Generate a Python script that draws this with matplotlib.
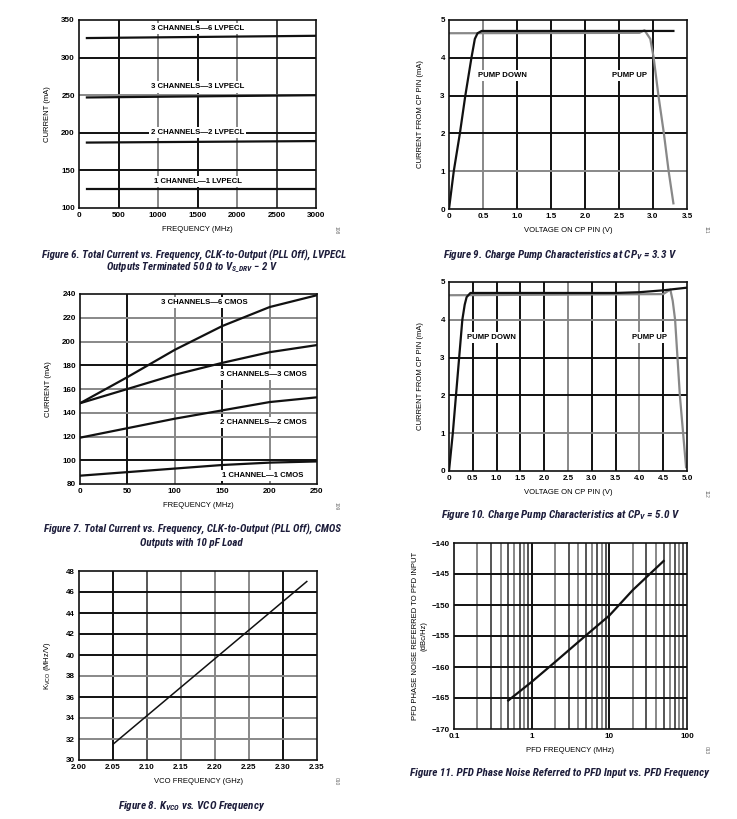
import matplotlib
matplotlib.use('Agg')
import matplotlib.pyplot as plt
import numpy as np

plt.rcParams['font.family'] = ['Liberation Sans', 'DejaVu Sans']
plt.rcParams['font.weight'] = 'bold'

# ---- data ----
# Figure 6: LVPECL current vs frequency
f6_freq = [100, 3000]
f6_6lv = [326, 329]
f6_3lv = [247, 250]
f6_2lv = [187, 189]
f6_1lv = [125, 125]

# Figure 7: CMOS current vs frequency
f7_freq = [0, 50, 100, 150, 200, 250]
f7_6cm = [148, 170, 193, 213, 229, 239]
f7_3cm = [148, 160, 172, 182, 191, 197]
f7_2cm = [119, 127, 135, 142, 149, 153]
f7_1cm = [87, 90, 93, 96, 98, 99]

# Figure 8: Kvco vs VCO frequency
f8_freq = [2.05, 2.335]
f8_kvco = [31.5, 47.0]

# Figure 9: charge pump at CPv = 3.3 V
f9_dn_v = [0, 0.07, 0.16, 0.24, 0.33, 0.38, 0.42, 0.48, 3.3]
f9_dn_i = [0, 1.0, 2.0, 3.0, 4.0, 4.5, 4.65, 4.71, 4.71]
f9_up_v = [0, 2.8, 2.875, 2.96, 3.01, 3.08, 3.16, 3.23, 3.3]
f9_up_i = [4.65, 4.66, 4.73, 4.5, 4.0, 3.0, 2.0, 1.0, 0.15]

# Figure 10: charge pump at CPv = 5.0 V
f10_dn_v = [0, 0.08, 0.18, 0.28, 0.33, 0.37, 0.45, 3.5, 4.0, 4.5, 5.0]
f10_dn_i = [0, 1.0, 2.5, 4.0, 4.4, 4.6, 4.71, 4.71, 4.73, 4.78, 4.85]
f10_up_v = [0, 4.5, 4.65, 4.7, 4.75, 4.85, 4.98]
f10_up_i = [4.65, 4.68, 4.8, 4.5, 4.0, 2.0, 0.1]

# Figure 11: PFD phase noise vs PFD frequency
f11_freq = [0.5, 1, 2, 5, 10, 20, 50]
f11_pn = [-165.4, -162.4, -159.2, -154.9, -151.7, -147.6, -142.9]

W, H = 737, 819
fig = plt.figure(figsize=(W / 100, H / 100), dpi=100)

BLK = '#111111'
GRY = '#888888'
CAP = '#1c1c3a'


def box(l, r, t, b):
    return [l / W, 1 - b / H, (r - l) / W, (b - t) / H]


def setup(ax, xlim, ylim, xt, yt, vlines, hlines, xfmt=None):
    ax.set_xlim(*xlim)
    ax.set_ylim(*ylim)
    for x, c in vlines:
        ax.axvline(x, color=c, lw=1.4, zorder=1)
    for y, c in hlines:
        ax.axhline(y, color=c, lw=1.4, zorder=1)
    ax.set_xticks(xt)
    ax.set_yticks(yt)
    if xfmt:
        ax.set_xticklabels([xfmt.format(v) for v in xt])
    ax.tick_params(length=0, labelsize=5.8, pad=3)
    for s in ax.spines.values():
        s.set_linewidth(1.2)
        s.set_color(BLK)


def lab(ax, x, y, s):
    ax.text(x, y, s, ha='center', va='center', fontsize=5.6, zorder=3,
            bbox=dict(facecolor='white', edgecolor='none', pad=1.5))


def caption(x, y, s, size=8):
    fig.text(x / W, 1 - y / H, s, ha='center', va='center', fontsize=size,
             style='italic', weight='bold', color=CAP,
             family=['Roboto Condensed', 'Liberation Sans'])


def code(x, y, s):
    fig.text(x / W, 1 - y / H, s, ha='center', va='center', fontsize=3.5,
             rotation=270, color='#666666', weight='normal')


# ---- Figure 6 ----
ax = fig.add_axes(box(79, 316, 20, 208))
setup(ax, (0, 3000), (100, 350), range(0, 3001, 500), range(100, 351, 50),
      [(500, BLK), (1000, GRY), (1500, BLK), (2000, GRY), (2500, '#444444')],
      [(150, BLK), (200, BLK), (250, GRY), (300, BLK)])
for ys in (f6_6lv, f6_3lv, f6_2lv, f6_1lv):
    ax.plot(f6_freq, ys, color=BLK, lw=1.6, zorder=2)
lab(ax, 1500, 339, '3 CHANNELS—6 LVPECL')
lab(ax, 1500, 261, '3 CHANNELS—3 LVPECL')
lab(ax, 1500, 200, '2 CHANNELS—2 LVPECL')
lab(ax, 1500, 135, '1 CHANNEL—1 LVPECL')
ax.set_xlabel('FREQUENCY (MHz)', fontsize=5.5, labelpad=5)
ax.set_ylabel('CURRENT (mA)', fontsize=5.5, labelpad=7)
code(336, 230, '108')
caption(194, 255, 'Figure 6. Total Current vs. Frequency, CLK-to-Output (PLL Off), LVPECL', 7.8)
caption(192, 268, r'Outputs Terminated 50 Ω to V$\mathregular{_{S\_DRV}}$ − 2 V', 7.8)

# ---- Figure 9 ----
ax = fig.add_axes(box(449, 687, 20, 209))
setup(ax, (0, 3.5), (0, 5), np.arange(0, 3.51, 0.5), range(0, 6),
      [(0.5, GRY), (1.0, BLK), (1.5, BLK), (2.0, BLK), (2.5, BLK), (3.0, BLK)],
      [(1, GRY), (2, BLK), (3, BLK), (4, BLK)])
ax.set_xticklabels(['0'] + ['{:.1f}'.format(v) for v in np.arange(0.5, 3.51, 0.5)])
ax.plot(f9_up_v, f9_up_i, color=GRY, lw=1.6, zorder=2)
ax.plot(f9_dn_v, f9_dn_i, color=BLK, lw=1.6, zorder=2)
lab(ax, 0.78, 3.53, 'PUMP DOWN')
lab(ax, 2.65, 3.53, 'PUMP UP')
ax.set_xlabel('VOLTAGE ON CP PIN (V)', fontsize=5.5, labelpad=5)
ax.set_ylabel('CURRENT FROM CP PIN (mA)', fontsize=5.5, labelpad=12)
code(706, 230, '111')
caption(560, 255, r'Figure 9. Charge Pump Characteristics at CP$\mathregular{_V}$ = 3.3 V')

# ---- Figure 7 ----
ax = fig.add_axes(box(80, 317, 294, 484))
setup(ax, (0, 250), (80, 240), range(0, 251, 50), range(80, 241, 20),
      [(50, BLK), (100, GRY), (150, BLK), (200, GRY)],
      [(100, BLK), (120, GRY), (140, GRY), (160, GRY), (180, BLK), (200, GRY), (220, GRY)])
for ys in (f7_6cm, f7_3cm, f7_2cm, f7_1cm):
    ax.plot(f7_freq, ys, color=BLK, lw=1.6, zorder=2)
lab(ax, 131, 233, '3 CHANNELS—6 CMOS')
lab(ax, 193, 172.5, '3 CHANNELS—3 CMOS')
lab(ax, 193, 131.5, '2 CHANNELS—2 CMOS')
lab(ax, 193, 87, '1 CHANNEL—1 CMOS')
ax.set_xlabel('FREQUENCY (MHz)', fontsize=5.5, labelpad=5)
ax.set_ylabel('CURRENT (mA)', fontsize=5.5, labelpad=7)
code(336, 506, '109')
caption(193, 529, 'Figure 7. Total Current vs. Frequency, CLK-to-Output (PLL Off), CMOS', 7.8)
caption(191, 543, 'Outputs with 10 pF Load', 7.8)

# ---- Figure 10 ----
ax = fig.add_axes(box(449, 687, 282, 471))
setup(ax, (0, 5), (0, 5), np.arange(0, 5.01, 0.5), range(0, 6),
      [(0.5, BLK), (1.0, BLK), (1.5, BLK), (2.0, BLK), (2.5, GRY), (3.0, BLK),
       (3.5, BLK), (4.0, GRY), (4.5, BLK)],
      [(1, GRY), (2, BLK), (3, BLK), (4, GRY)])
ax.set_xticklabels(['0'] + ['{:.1f}'.format(v) for v in np.arange(0.5, 5.01, 0.5)])
ax.plot(f10_up_v, f10_up_i, color=GRY, lw=1.6, zorder=2)
ax.plot(f10_dn_v, f10_dn_i, color=BLK, lw=1.6, zorder=2)
lab(ax, 0.9, 3.54, 'PUMP DOWN')
lab(ax, 4.21, 3.54, 'PUMP UP')
ax.set_xlabel('VOLTAGE ON CP PIN (V)', fontsize=5.5, labelpad=5)
ax.set_ylabel('CURRENT FROM CP PIN (mA)', fontsize=5.5, labelpad=12)
code(706, 494, '112')
caption(561, 515, r'Figure 10. Charge Pump Characteristics at CP$\mathregular{_V}$ = 5.0 V')

# ---- Figure 8 ----
ax = fig.add_axes(box(79, 317, 571, 760))
setup(ax, (2.0, 2.35), (30, 48), np.arange(2.0, 2.351, 0.05), range(30, 49, 2),
      [(2.05, BLK), (2.10, '#555555'), (2.15, GRY), (2.20, GRY), (2.25, GRY), (2.30, BLK)],
      [(32, GRY), (34, GRY), (36, BLK), (38, GRY), (40, BLK), (42, BLK), (44, BLK), (46, BLK)],
      xfmt='{:.2f}')
ax.plot(f8_freq, f8_kvco, color=BLK, lw=1.1, zorder=2)
ax.set_xlabel('VCO FREQUENCY (GHz)', fontsize=5.5, labelpad=5)
ax.set_ylabel(r'K$\mathregular{_{VCO}}$ (MHz/V)', fontsize=5.5, labelpad=9)
code(336, 781, '010')
caption(192, 806, r'Figure 8. K$\mathregular{_{VCO}}$ vs. VCO Frequency')

# ---- Figure 11 ----
ax = fig.add_axes(box(454, 687, 543, 729))
ax.set_xscale('log')
minor = []
for dec in (0.1, 1, 10):
    for k in range(2, 10):
        minor.append((dec * k, '#555555' if k % 2 else GRY))
setup(ax, (0.1, 100), (-170, -140), [0.1, 1, 10, 100], range(-170, -139, 5),
      minor + [(1, BLK), (10, BLK)],
      [(y, BLK) for y in range(-165, -140, 5)])
ax.set_xticklabels(['0.1', '1', '10', '100'])
ax.set_yticklabels(['−{}'.format(-v) for v in range(-170, -139, 5)])
ax.minorticks_off()
ax.plot(f11_freq, f11_pn, color=BLK, lw=1.6, zorder=2)
ax.set_xlabel('PFD FREQUENCY (MHz)', fontsize=5.5, labelpad=5)
ax.set_ylabel('PFD PHASE NOISE REFERRED TO PFD INPUT\n(dBc/Hz)', fontsize=5.5,
              labelpad=3, linespacing=1.3)
code(706, 750, '013')
caption(560, 773, 'Figure 11. PFD Phase Noise Referred to PFD Input vs. PFD Frequency')

fig.savefig('out.png', dpi=100, facecolor='white')
